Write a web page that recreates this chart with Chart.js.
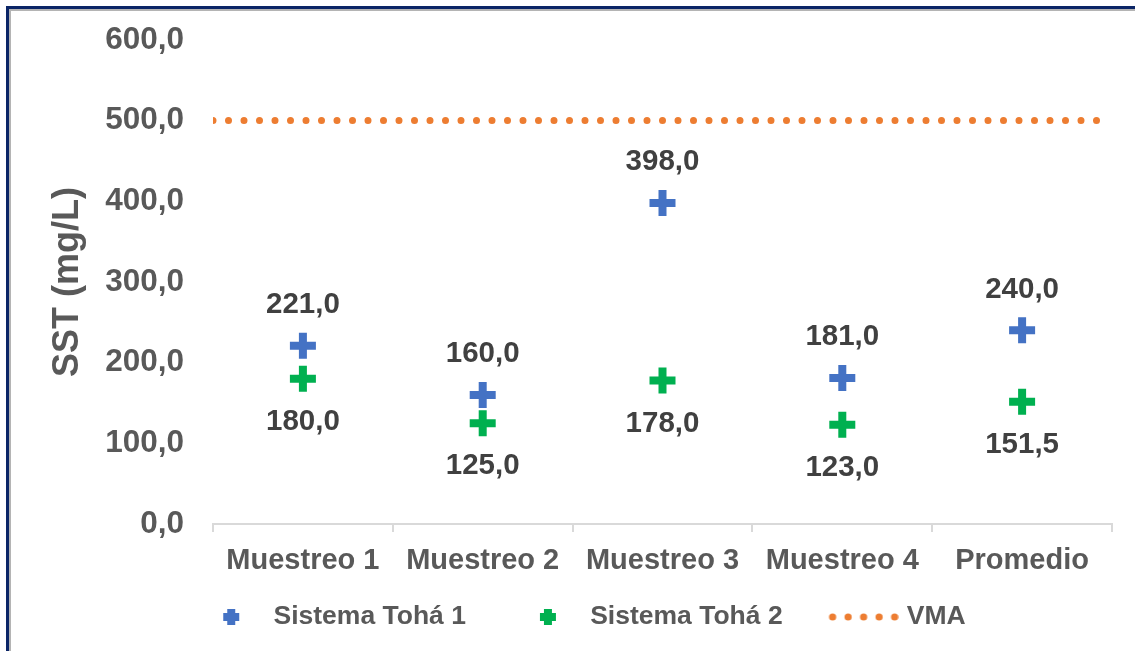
<!DOCTYPE html>
<html lang="es">
<head>
  <meta charset="UTF-8" />
  <title>SST (mg/L) - Sistema Tohá</title>
  <script src="https://cdn.jsdelivr.net/npm/chart.js"></script>
  <style>
    html, body {
      margin: 0;
      padding: 0;
      background: #fff;
      overflow: hidden;
    }
    .frame-outer {
      position: absolute;
      left: 6px;
      top: 6px;
      width: 2000px;
      height: 2000px;
      border-left: 3px solid #0B2566;
      border-top: 3px solid #0B2566;
    }
    .frame-inner {
      position: absolute;
      left: 9px;
      top: 9px;
      width: 2000px;
      height: 2000px;
      border-left: 2px solid #B4B4B4;
      border-top: 2px solid #B4B4B4;
    }
    .chart-container {
      position: absolute;
      left: 0;
      top: 0;
      width: 1135px;
      height: 651px;
    }
  </style>
</head>
<body>
  <div class="frame-outer"></div>
  <div class="frame-inner"></div>
  <div class="chart-container">
    <canvas id="sstChart"></canvas>
  </div>

  <script>
    // data
    const categories = ['Muestreo 1', 'Muestreo 2', 'Muestreo 3', 'Muestreo 4', 'Promedio'];
    const sistemaToha1 = [221.0, 160.0, 398.0, 181.0, 240.0];
    const sistemaToha2 = [180.0, 125.0, 178.0, 123.0, 151.5];
    const vmaLimit = [500, 500];
    const yTicks = [0, 100, 200, 300, 400, 500, 600];

    const BLUE = '#4472C4';
    const GREEN = '#00B050';
    const ORANGE = '#ED7D31';
    const GREY_TEXT = '#595959';
    const fmt = v => Number(v).toFixed(1).replace('.', ',');

    Chart.defaults.font.family = '"Liberation Sans", Arial, sans-serif';

    // legend icons (image point styles)
    function plusIcon(color) {
      const c = document.createElement('canvas');
      c.width = 90; c.height = 30;
      const g = c.getContext('2d');
      g.fillStyle = color;
      g.fillRect(56 - 8, 15 - 4, 16, 8);
      g.fillRect(56 - 4, 15 - 8, 8, 16);
      return c;
    }
    function dotsIcon(color) {
      const c = document.createElement('canvas');
      c.width = 90; c.height = 30;
      const g = c.getContext('2d');
      g.fillStyle = color;
      for (let i = 0; i < 5; i++) {
        g.beginPath();
        g.arc(24 + i * 15.5, 15, 3.6, 0, Math.PI * 2);
        g.fill();
      }
      return c;
    }
    const legendIcons = [plusIcon(BLUE), plusIcon(GREEN), dotsIcon(ORANGE)];

    const pointLabels = {
      id: 'pointLabels',
      afterDatasetsDraw(chart) {
        const ctx = chart.ctx;
        ctx.save();
        ctx.font = 'bold 29.5px "Liberation Sans", Arial, sans-serif';
        ctx.fillStyle = '#404040';
        ctx.textAlign = 'center';
        ctx.textBaseline = 'middle';
        [[0, -41], [1, 43]].forEach(([di, dy]) => {
          const meta = chart.getDatasetMeta(di);
          meta.data.forEach((pt, i) => {
            ctx.fillText(fmt(chart.data.datasets[di].data[i]), pt.x, pt.y + dy);
          });
        });
        ctx.restore();
      }
    };

    const ctx = document.getElementById('sstChart').getContext('2d');
    const sstChart = new Chart(ctx, {
      type: 'line',
      data: {
        labels: categories,
        datasets: [
          {
            label: 'Sistema Tohá 1',
            data: sistemaToha1,
            showLine: false,
            pointStyle: 'cross',
            pointRadius: 13,
            pointHoverRadius: 13,
            pointBorderWidth: 8,
            pointHoverBorderWidth: 8,
            borderColor: BLUE,
            backgroundColor: BLUE
          },
          {
            label: 'Sistema Tohá 2',
            data: sistemaToha2,
            showLine: false,
            pointStyle: 'cross',
            pointRadius: 13,
            pointHoverRadius: 13,
            pointBorderWidth: 8,
            pointHoverBorderWidth: 8,
            borderColor: GREEN,
            backgroundColor: GREEN
          },
          {
            label: 'VMA',
            data: vmaLimit.map((v, i) => ({ x: i, y: v })),
            xAxisID: 'x2',
            borderColor: ORANGE,
            backgroundColor: ORANGE,
            borderWidth: 7,
            borderDash: [0, 15.5],
            borderCapStyle: 'round',
            pointRadius: 0,
            fill: false,
            clip: 0
          }
        ]
      },
      options: {
        responsive: true,
        maintainAspectRatio: false,
        animation: false,
        events: [],
        layout: { padding: { left: 34, right: 23, top: 36.5, bottom: 10.75 } },
        scales: {
          x: {
            type: 'category',
            offset: true,
            grid: {
              offset: true,
              drawOnChartArea: false,
              drawTicks: true,
              tickLength: 8,
              color: '#D9D9D9',
              lineWidth: 2
            },
            border: { display: true, color: '#D9D9D9', width: 2 },
            ticks: {
              color: GREY_TEXT,
              padding: 12,
              maxRotation: 0,
              autoSkip: false,
              font: { size: 29, weight: 'bold' }
            },
            afterFit: s => { s.height = 48.75; }
          },
          x2: {
            type: 'linear',
            min: 0,
            max: 1,
            display: false
          },
          y: {
            min: 0,
            max: 600,
            grid: { display: false },
            border: { display: false },
            ticks: {
              color: GREY_TEXT,
              padding: 21,
              font: { size: 31.5, weight: 'bold' },
              callback: v => fmt(v)
            },
            afterBuildTicks: s => { s.ticks = yTicks.map(v => ({ value: v })); },
            title: {
              display: true,
              text: 'SST (mg/L)',
              color: GREY_TEXT,
              font: { size: 36, weight: 'bold' },
              padding: { top: 12, bottom: 0 }
            },
            afterFit: s => { s.width = 179; }
          }
        },
        plugins: {
          tooltip: { enabled: false },
          legend: {
            position: 'bottom',
            labels: {
              usePointStyle: true,
              pointStyleWidth: 80,
              padding: 31,
              color: GREY_TEXT,
              font: { size: 26.5, weight: 'bold' },
              generateLabels: chart => chart.data.datasets.map((ds, i) => ({
                text: ds.label,
                pointStyle: legendIcons[i],
                fillStyle: ds.borderColor,
                strokeStyle: 'rgba(0,0,0,0)',
                fontColor: GREY_TEXT,
                lineWidth: 0,
                hidden: false,
                datasetIndex: i
              }))
            }
          }
        }
      },
      plugins: [pointLabels]
    });
  </script>
</body>
</html>
